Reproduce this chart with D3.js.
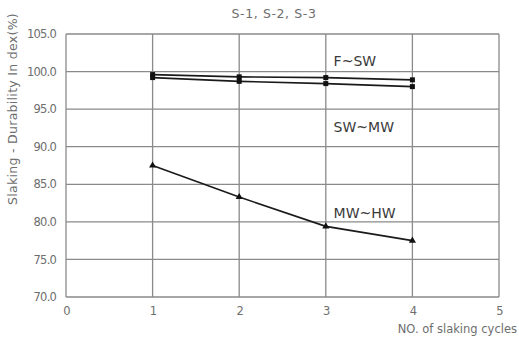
<!DOCTYPE html>
<html>
<head>
<meta charset="utf-8">
<script src="https://cdn.jsdelivr.net/npm/d3@7"></script>
<style>
  body { margin: 0; background: #fff; }
  text { font-family: "DejaVu Sans", Arial, sans-serif; fill: #6e6e6e; }
</style>
</head>
<body>
<div id="chart"></div>
<script>
var svgWidth = 519;
var svgHeight = 338;

var margin = { top: 34, right: 20, bottom: 41, left: 66 };
var width = 499 - margin.left;
var height = 297 - margin.top;

// chart values
var cycles = [1, 2, 3, 4];
var fsw = [99.6, 99.3, 99.2, 98.9];
var swmw = [99.2, 98.7, 98.4, 98.0];
var mwhw = [87.5, 83.3, 79.4, 77.5];
var xTicks = [0, 1, 2, 3, 4, 5];
var yTicks = [70, 75, 80, 85, 90, 95, 100, 105];
var zoneLabels = ["F~SW", "SW~MW", "MW~HW"];
var zoneLabelValues = [100.8, 91.9, 80.5];

var svg = d3.select("#chart")
  .append("svg")
  .attr("width", svgWidth)
  .attr("height", svgHeight);

var chartGroup = svg.append("g")
  .attr("transform", `translate(${margin.left}, ${margin.top})`);

var x = d3.scaleLinear().domain([0, 5]).range([0, width]);
var y = d3.scaleLinear().domain([70, 105]).range([height, 0]);

// grid
chartGroup.selectAll(".hgrid")
  .data(yTicks)
  .enter()
  .append("line")
  .attr("x1", 0)
  .attr("x2", width)
  .attr("y1", d => y(d))
  .attr("y2", d => y(d))
  .attr("stroke", "#8a8a8a")
  .attr("stroke-width", 1.3);

chartGroup.selectAll(".vgrid")
  .data(xTicks)
  .enter()
  .append("line")
  .attr("x1", d => x(d))
  .attr("x2", d => x(d))
  .attr("y1", 0)
  .attr("y2", height)
  .attr("stroke", "#8a8a8a")
  .attr("stroke-width", 1.3);

// axes (tick labels only)
var leftAxis = d3.axisLeft(y).tickValues(yTicks).tickFormat(d3.format(".1f")).tickSize(0).tickPadding(10);
var bottomAxis = d3.axisBottom(x).tickValues(xTicks).tickFormat(d3.format("d")).tickSize(0).tickPadding(10);

var yAxis = chartGroup.append("g").call(leftAxis);
var xAxis = chartGroup.append("g").attr("transform", `translate(0, ${height})`).call(bottomAxis);
[yAxis, xAxis].forEach(function(a) {
  a.select(".domain").remove();
  a.selectAll("text")
    .style("font-size", "11.5px")
    .style("letter-spacing", "-0.8px")
    .attr("fill", "#6e6e6e");
});

// series
var line = d3.line()
  .x((d, i) => x(cycles[i]))
  .y(d => y(d));

[fsw, swmw, mwhw].forEach(function(s) {
  chartGroup.append("path")
    .datum(s)
    .attr("d", line)
    .attr("fill", "none")
    .attr("stroke", "#1a1a1a")
    .attr("stroke-width", 1.6);
});

[fsw, swmw].forEach(function(s) {
  chartGroup.selectAll(null)
    .data(s)
    .enter()
    .append("rect")
    .attr("x", (d, i) => x(cycles[i]) - 2.5)
    .attr("y", d => y(d) - 2.5)
    .attr("width", 5)
    .attr("height", 5)
    .attr("fill", "#111");
});

chartGroup.selectAll(null)
  .data(mwhw)
  .enter()
  .append("path")
  .attr("d", d3.symbol().type(d3.symbolTriangle).size(22))
  .attr("transform", (d, i) => `translate(${x(cycles[i])}, ${y(d)})`)
  .attr("fill", "#111");

// zone labels
chartGroup.selectAll(".zone")
  .data(zoneLabels)
  .enter()
  .append("text")
  .attr("x", x(3.09))
  .attr("y", (d, i) => y(zoneLabelValues[i]))
  .style("font-size", "14px")
  .style("fill", "#3a3a3a")
  .text(d => d);

// title
svg.append("text")
  .attr("x", 274)
  .attr("y", 18)
  .attr("text-anchor", "middle")
  .style("font-size", "12.5px")
  .style("letter-spacing", "0.6px")
  .text("S-1, S-2, S-3");

// y label
svg.append("text")
  .attr("transform", "rotate(-90)")
  .attr("x", -109)
  .attr("y", 17)
  .attr("text-anchor", "middle")
  .style("font-size", "12.5px")
  .style("letter-spacing", "0.3px")
  .text("Slaking - Durability In dex(%)");

// x label
svg.append("text")
  .attr("x", 517)
  .attr("y", 333)
  .attr("text-anchor", "end")
  .style("font-size", "11.5px")
  .text("NO. of slaking cycles");
</script>
</body>
</html>
